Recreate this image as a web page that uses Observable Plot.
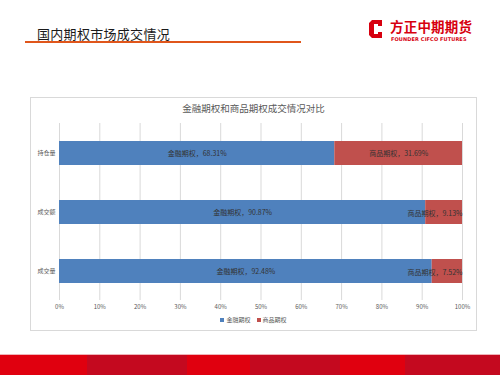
<!DOCTYPE html>
<html>
<head>
<meta charset="utf-8">
<script src="https://cdn.jsdelivr.net/npm/d3@7"></script>
<script src="https://cdn.jsdelivr.net/npm/@observablehq/plot@0.6"></script>
<style>
  html, body { margin: 0; padding: 0; background: #fff; }
  #page { position: relative; width: 500px; height: 375px; overflow: hidden; font-family: "Noto Sans CJK SC", "Noto Sans", sans-serif; }
  #title { position: absolute; left: 37px; top: 24px; font-size: 13px; color: #1a1a1a; letter-spacing: 0.3px; }
  #rule { position: absolute; left: 25px; top: 41px; width: 276px; height: 2px; background: #e0561b; }
  #logo { position: absolute; left: 368px; top: 18px; }
  #logoText { position: absolute; left: 390px; top: 19px; font-size: 13.5px; font-weight: 700; color: #d7000f; letter-spacing: 0.2px; line-height: 15px; }
  #logoSub { position: absolute; left: 391px; top: 36px; font-size: 5px; line-height: 6px; font-weight: 700; color: #d7000f; font-family: "DejaVu Sans", sans-serif; letter-spacing: 0.1px; }
  #frame { position: absolute; left: 30px; top: 97px; width: 445px; height: 232px; border: 1px solid #d9d9d9; }
  #ctitle { position: absolute; left: 30px; top: 101px; width: 447px; text-align: center; font-size: 9.5px; color: #595959; }
  #chart { position: absolute; left: 30px; top: 118px; }
  #legend { position: absolute; left: 30px; top: 315px; width: 447px; text-align: center; font-size: 6px; color: #595959; }
  #legend span.sw { display: inline-block; width: 4px; height: 4px; margin-right: 2px; vertical-align: middle; }
  #legend span.item { margin: 0 3px; }
  #band { position: absolute; left: 0; top: 355px; width: 500px; height: 20px;
    background: linear-gradient(to right, #e0000f 0 87px, #c4091f 87px 187px, #e0000f 187px 250px, #c4091f 250px 340px, #e0000f 340px 405px, #c4091f 405px 500px); }
  #bandLine { position: absolute; left: 0; top: 354px; width: 500px; height: 1px; background: #f0b3b8; }
</style>
</head>
<body>
<div id="page">
  <div id="title">国内期权市场成交情况</div>
  <div id="rule"></div>
  <svg id="logo" width="16" height="22" viewBox="0 0 16 22">
    <path d="M4 2 L14 2 L14 8 L10 8 L10 6 L6 6 L6 16 L10 16 L10 14 L14 14 L14 20 L4 20 L1 17 L1 5 Z" fill="#d7000f"/>
  </svg>
  <div id="logoText">方正中期期货</div>
  <div id="logoSub">FOUNDER CIFCO FUTURES</div>
  <div id="frame"></div>
  <div id="ctitle">金融期权和商品期权成交情况对比</div>
  <div id="chart"></div>
  <div id="legend"></div>
  <div id="bandLine"></div>
  <div id="band"></div>
</div>
<script>
const categories = ["持仓量", "成交额", "成交量"];
const seriesNames = ["金融期权", "商品期权"];
const financialShare = [68.31, 90.87, 92.48];
const commodityShare = [31.69, 9.13, 7.52];
const xTickValues = [0, 10, 20, 30, 40, 50, 60, 70, 80, 90, 100];
const seriesColors = ["#4f81bd", "#c0504d"];

const rows = [];
categories.forEach((c, i) => {
  rows.push({cat: c, series: seriesNames[0], value: financialShare[i], x1: 0, x2: financialShare[i]});
  rows.push({cat: c, series: seriesNames[1], value: commodityShare[i], x1: financialShare[i], x2: financialShare[i] + commodityShare[i]});
});
const label = d => `${d.series}，${d.value.toFixed(2)}%`;
const centered = rows.filter(d => d.value >= 15);
const clamped = rows.filter(d => d.value < 15);

const chart = Plot.plot({
  width: 447,
  height: 196,
  marginTop: 5,
  marginBottom: 14,
  marginLeft: 29,
  marginRight: 15,
  style: {fontFamily: '"Noto Sans CJK SC", sans-serif', background: "transparent", overflow: "visible"},
  x: {domain: [0, 100]},
  y: {domain: categories, paddingInner: 0.6, paddingOuter: 0.3},
  color: {domain: seriesNames, range: seriesColors},
  marks: [
    Plot.gridX(xTickValues, {stroke: "#d9d9d9", strokeOpacity: 1, strokeWidth: 1}),
    Plot.barX(rows, {x1: "x1", x2: "x2", y: "cat", fill: "series"}),
    Plot.text(centered, {x: d => (d.x1 + d.x2) / 2, y: "cat", text: label, fontSize: 7, fill: "#333333"}),
    Plot.text(clamped, {x: "x2", y: "cat", text: label, fontSize: 7, fill: "#333333", textAnchor: "end", dy: 1}),
    Plot.axisX(xTickValues, {tickSize: 0, tickPadding: 4, tickFormat: d => d + "%", fontSize: 6, fill: "#595959", label: null}),
    Plot.axisY({tickSize: 0, tickPadding: 4, fontSize: 6, fill: "#595959", label: null})
  ]
});
document.getElementById("chart").appendChild(chart);

const legend = document.getElementById("legend");
seriesNames.forEach((s, i) => {
  const item = document.createElement("span");
  item.className = "item";
  const sw = document.createElement("span");
  sw.className = "sw";
  sw.style.background = seriesColors[i];
  item.appendChild(sw);
  item.appendChild(document.createTextNode(s));
  legend.appendChild(item);
});
</script>
</body>
</html>
